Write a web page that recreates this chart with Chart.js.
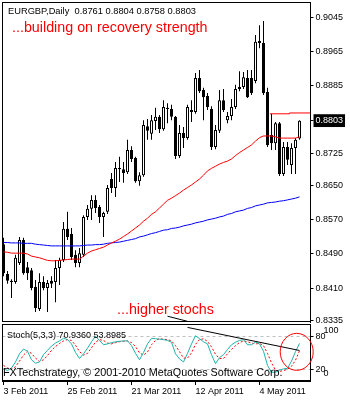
<!DOCTYPE html>
<html>
<head>
<meta charset="utf-8">
<script src="https://cdn.jsdelivr.net/npm/chart.js@4.4.0/dist/chart.umd.min.js"></script>
<style>
body { margin: 0; background: #fff; }
#wrap { position: relative; width: 350px; height: 400px; overflow: hidden; background: #fff; }
canvas { position: absolute; left: 0; }
#main { top: 0; }
#stoch { top: 322px; }
.note { position: absolute; font-family: 'Liberation Sans', Arial, sans-serif; white-space: nowrap; line-height: 1; }
</style>
</head>
<body>
<div id="wrap">
  <canvas id="main" width="350" height="330"></canvas>
  <canvas id="stoch" width="350" height="78"></canvas>
  <div class="note" style="left:8px;top:7px;font-size:9.3px;color:#000">EURGBP,Daily&nbsp; 0.8761 0.8804 0.8758 0.8803</div>
  <div class="note" style="left:12px;top:20px;font-size:14.3px;color:#ff0000">...building on recovery strength</div>
  <div class="note" style="left:117px;top:302px;font-size:14.3px;color:#ff0000">...higher stochs</div>
  <div class="note" style="left:7px;top:331px;font-size:9px;color:#000">Stoch(5,3,3) 70.9360 53.8985</div>
  <div class="note" style="left:3px;top:367px;font-size:10.8px;color:#000">FXTechstrategy, © 2001-2010 MetaQuotes Software Corp.</div>
</div>
<script>
// EURGBP daily, 3 Feb 2011 .. 18 May 2011
var dates = ['3 Feb 2011', '25 Feb 2011', '21 Mar 2011', '12 Apr 2011', '4 May 2011'];
var dateIdx = [0, 16, 32, 48, 64];

var opens = [
  0.8513,0.8443,0.8427,0.8424,0.8469,0.8523,0.8459,0.8452,0.8413,0.8361,
  0.8424,0.8410,0.8427,0.8424,0.8457,0.8476,0.8549,0.8537,0.8488,0.8469,
  0.8488,0.8577,0.8596,0.8617,0.8600,0.8577,0.8589,0.8666,0.8645,0.8689,
  0.8689,0.8682,0.8734,0.8715,0.8661,0.8675,0.8790,0.8772,0.8802,0.8812,
  0.8783,0.8830,0.8830,0.8812,0.8720,0.8774,0.8762,0.8823,0.8823,0.8903,
  0.8875,0.8861,0.8830,0.8741,0.8779,0.8851,0.8804,0.8814,0.8835,0.8877,
  0.8882,0.8903,0.8903,0.8896,0.8990,0.8985,0.8870,0.8769,0.8750,0.8797,
  0.8678,0.8741,0.8699,0.8739,0.8761];
var highs = [
  0.8528,0.8450,0.8431,0.8488,0.8530,0.8528,0.8471,0.8457,0.8429,0.8445,
  0.8438,0.8429,0.8438,0.8476,0.8481,0.8565,0.8589,0.8551,0.8499,0.8504,
  0.8581,0.8605,0.8628,0.8628,0.8605,0.8589,0.8652,0.8680,0.8706,0.8718,
  0.8706,0.8758,0.8743,0.8718,0.8682,0.8804,0.8807,0.8816,0.8833,0.8816,
  0.8851,0.8844,0.8840,0.8814,0.8793,0.8788,0.8840,0.8851,0.8915,0.8922,
  0.8880,0.8868,0.8837,0.8793,0.8875,0.8877,0.8823,0.8854,0.8887,0.8919,
  0.8917,0.8922,0.8922,0.9004,0.9027,0.9037,0.8880,0.8819,0.8800,0.8800,
  0.8753,0.8753,0.8750,0.8762,0.8804];
var lows = [
  0.8438,0.8420,0.8387,0.8420,0.8464,0.8441,0.8429,0.8405,0.8354,0.8356,
  0.8405,0.8354,0.8410,0.8377,0.8417,0.8471,0.8523,0.8476,0.8459,0.8459,
  0.8483,0.8570,0.8570,0.8586,0.8563,0.8530,0.8584,0.8633,0.8624,0.8659,
  0.8657,0.8678,0.8706,0.8657,0.8650,0.8671,0.8758,0.8758,0.8781,0.8774,
  0.8779,0.8797,0.8804,0.8713,0.8715,0.8739,0.8758,0.8800,0.8819,0.8868,
  0.8804,0.8828,0.8734,0.8736,0.8774,0.8823,0.8797,0.8804,0.8830,0.8872,
  0.8877,0.8856,0.8863,0.8891,0.8973,0.8863,0.8741,0.8734,0.8734,0.8673,
  0.8673,0.8699,0.8678,0.8678,0.8758];
var closes = [
  0.8445,0.8427,0.8424,0.8481,0.8523,0.8445,0.8445,0.8410,0.8363,0.8424,
  0.8410,0.8422,0.8420,0.8457,0.8476,0.8549,0.8530,0.8483,0.8469,0.8492,
  0.8577,0.8596,0.8617,0.8598,0.8577,0.8586,0.8645,0.8645,0.8692,0.8692,
  0.8680,0.8734,0.8713,0.8661,0.8675,0.8793,0.8779,0.8804,0.8812,0.8783,
  0.8835,0.8833,0.8812,0.8720,0.8774,0.8762,0.8835,0.8828,0.8903,0.8872,
  0.8858,0.8835,0.8741,0.8781,0.8851,0.8828,0.8814,0.8835,0.8877,0.8882,
  0.8905,0.8858,0.8868,0.8988,0.8985,0.8868,0.8746,0.8750,0.8797,0.8678,
  0.8741,0.8711,0.8739,0.8758,0.8803];

// red (faster) and blue (slower) moving averages
var maFast = [
  0.8495,0.8494,0.8492,0.8492,0.8492,0.8492,0.8490,0.8485,0.8483,0.8481,
  0.8478,0.8475,0.8474,0.8474,0.8475,0.8476,0.8477,0.8478,0.8478,0.8478,
  0.8485,0.8492,0.8497,0.8500,0.8503,0.8506,0.8511,0.8516,0.8520,0.8525,
  0.8531,0.8537,0.8544,0.8551,0.8558,0.8567,0.8574,0.8583,0.8589,0.8598,
  0.8607,0.8616,0.8621,0.8627,0.8633,0.8640,0.8646,0.8652,0.8659,0.8666,
  0.8675,0.8685,0.8691,0.8696,0.8701,0.8705,0.8708,0.8713,0.8721,0.8728,
  0.8734,0.8740,0.8746,0.8755,0.8763,0.8767,0.8767,0.8767,0.8765,0.8762,
  0.8762,0.8762,0.8762,0.8762,0.8765];
var maSlow = [
  0.8517,0.8517,0.8516,0.8516,0.8516,0.8515,0.8515,0.8515,0.8513,0.8512,
  0.8511,0.8510,0.8509,0.8509,0.8509,0.8509,0.8509,0.8509,0.8509,0.8509,
  0.8510,0.8511,0.8511,0.8512,0.8512,0.8513,0.8515,0.8516,0.8517,0.8518,
  0.8520,0.8522,0.8524,0.8526,0.8530,0.8532,0.8535,0.8538,0.8540,0.8543,
  0.8546,0.8547,0.8550,0.8551,0.8553,0.8556,0.8558,0.8560,0.8563,0.8565,
  0.8567,0.8570,0.8572,0.8574,0.8577,0.8579,0.8583,0.8585,0.8589,0.8591,
  0.8593,0.8597,0.8599,0.8603,0.8605,0.8607,0.8610,0.8611,0.8612,0.8614,
  0.8615,0.8617,0.8619,0.8621,0.8624];

var resistIdx = [66.6, 71.5, 71.5, 77];
var resistVals = [0.8819, 0.8819, 0.8821, 0.8821];

var priceTicks = [0.9045, 0.8965, 0.8885, 0.8803, 0.8725, 0.8650, 0.8570, 0.8490, 0.8410, 0.8335];
var lastClose = 0.8803;

var stochK = [
  12,8,14,28,47,58,53,33,25,28,
  45,55,65,72,77,83,80,70,50,36,
  47,60,75,88,78,68,70,73,75,76,
  77,77,66,48,33,50,70,83,82,81,
  80,78,74,47,35,28,48,70,89,82,
  75,70,45,24,38,45,57,68,74,78,
  80,68,68,74,70,53,20,4,4,9,
  12,13,30,52,71];
var stochD = [
  20,14,11,17,30,44,53,48,37,29,
  33,43,55,64,71,77,80,78,67,52,
  44,48,61,74,80,78,72,70,73,75,
  76,77,73,64,49,44,51,68,78,82,
  81,80,77,66,52,37,37,49,69,80,
  82,76,63,46,36,36,47,57,66,73,
  77,75,72,70,71,66,48,26,9,6,
  8,11,18,32,54];
var stochLevels = [20, 80];
var stochEnds = [0, 100];

// hand drawn trend line, price part and stoch part
var trendMainIdx = [41, 46];
var trendMainVals = [0.8344, 0.8332];
var trendStochIdx = [46, 74];
var trendStochVals = [108.4, 54.7];

Chart.defaults.font.family = "'Liberation Sans', Arial, sans-serif";
Chart.defaults.font.size = 9;
Chart.defaults.color = '#000';
Chart.defaults.animation = false;

var AXIS_W = 39.5;

function pts(idx, vals) { return vals.map(function (v, i) { return { x: idx ? idx[i] : i, y: v }; }); }

var frame = {
  id: 'frame',
  afterDatasetsDraw: function (chart) {
    var a = chart.chartArea, c = chart.ctx;
    c.save();
    c.strokeStyle = '#000';
    c.lineWidth = 1;
    c.strokeRect(Math.floor(a.left) + 0.5, Math.floor(a.top) + 0.5, Math.round(a.right - a.left), Math.round(a.bottom - a.top) - 1);
    c.restore();
  }
};

var ring = {
  id: 'ring',
  afterDraw: function (chart) {
    var c = chart.ctx;
    var x = chart.scales.x.getPixelForValue(73.3);
    var y = chart.scales.y.getPixelForValue(53);
    c.save();
    c.strokeStyle = '#ff0000';
    c.lineWidth = 1;
    c.beginPath();
    c.ellipse(x, y, 16.5, 18.5, 0, 0, Math.PI * 2);
    c.stroke();
    c.restore();
  }
};

// the 0/100 axis takes no room in the layout, then shares the space of the 20/80 axis
var shareAxis = {
  id: 'shareAxis',
  afterLayout: function (chart) {
    var s = chart.scales.yEnds;
    s.width = AXIS_W;
    s.right = s.left + AXIS_W;
  }
};

var wicks = lows.map(function (l, i) { return { x: i, y: [l, highs[i]] }; });
var bodies = opens.map(function (o, i) { return { x: i, y: [o, closes[i]] }; });
var bodyFill = opens.map(function (o, i) { return closes[i] >= o ? '#fff' : '#000'; });

new Chart(document.getElementById('main'), {
  type: 'bar',
  data: {
    datasets: [
      { type: 'line', data: pts(trendMainIdx, trendMainVals), borderColor: '#000', borderWidth: 1, pointRadius: 0, order: 0 },
      { type: 'line', data: pts(null, maFast), borderColor: '#ff0000', borderWidth: 1, pointRadius: 0, order: 1 },
      { type: 'line', data: pts(null, maSlow), borderColor: '#0000ff', borderWidth: 1, pointRadius: 0, order: 1 },
      { type: 'line', data: pts(resistIdx, resistVals), borderColor: '#ff0000', borderWidth: 1, pointRadius: 0, order: 1 },
      { data: bodies, backgroundColor: bodyFill, borderColor: '#000', borderWidth: 1, borderSkipped: false,
        barThickness: 3, grouped: false, inflateAmount: 0, minBarLength: 1, order: 2 },
      { data: wicks, backgroundColor: '#000', borderWidth: 0, barThickness: 1, grouped: false, inflateAmount: 0, order: 3 }
    ]
  },
  options: {
    responsive: false,
    layout: { padding: { left: 2.5, top: 2, right: 0, bottom: 8 } },
    plugins: { legend: { display: false }, tooltip: { enabled: false } },
    scales: {
      x: { type: 'linear', min: -0.25, max: 76.75, offset: false, display: false, grid: { offset: false } },
      y: {
        position: 'right', min: 0.83304, max: 0.90814, beginAtZero: false,
        afterBuildTicks: function (s) { s.ticks = priceTicks.map(function (v) { return { value: v }; }); },
        afterFit: function (s) { s.width = AXIS_W; s.paddingTop = 0; s.paddingBottom = 0; },
        grid: { drawOnChartArea: false, tickLength: 3, tickColor: '#000', color: '#000' },
        border: { color: '#000' },
        ticks: {
          padding: 2,
          callback: function (v) { return v.toFixed(4); },
          color: function (c) { return c.tick && c.tick.value === lastClose ? '#fff' : '#000'; },
          showLabelBackdrop: function (c) { return !!(c.tick && c.tick.value === lastClose); },
          backdropColor: '#000',
          backdropPadding: { top: 1, bottom: 1, left: 2, right: 2 }
        }
      }
    }
  },
  plugins: [frame]
});

new Chart(document.getElementById('stoch'), {
  type: 'line',
  data: {
    datasets: [
      { data: pts(trendStochIdx, trendStochVals), borderColor: '#000', borderWidth: 1, pointRadius: 0, clip: false, order: 0 },
      { data: pts(null, stochK), borderColor: '#20b2aa', borderWidth: 1, pointRadius: 0, order: 1 },
      { data: pts(null, stochD), borderColor: '#ff0000', borderWidth: 1, borderDash: [2, 2], pointRadius: 0, order: 2 }
    ]
  },
  options: {
    responsive: false,
    layout: { padding: { left: 2.5, top: 2, right: 0, bottom: 0 } },
    plugins: { legend: { display: false }, tooltip: { enabled: false } },
    scales: {
      x: {
        type: 'linear', min: -0.25, max: 76.75, offset: false,
        afterBuildTicks: function (s) { s.ticks = dateIdx.map(function (v) { return { value: v }; }); },
        afterFit: function (s) { s.height = 19; s.paddingLeft = 0; s.paddingRight = 0; },
        grid: { drawOnChartArea: false, tickLength: 4, tickColor: '#000' },
        border: { color: '#000' },
        ticks: { callback: function (v, i) { return dates[i]; }, align: 'start', padding: 1, autoSkip: false, maxRotation: 0 }
      },
      // 100 / 0 labels sit inside the pane, as the terminal draws them
      yEnds: {
        position: 'right', min: -16.3, max: 116.3, weight: 0,
        afterBuildTicks: function (s) { s.ticks = stochEnds.map(function (v) { return { value: v }; }); },
        afterFit: function (s) { s.width = 0; s.paddingTop = 0; s.paddingBottom = 0; },
        grid: { display: false },
        border: { display: false },
        ticks: { padding: 5 }
      },
      y: {
        position: 'right', min: 0, max: 103.6, weight: 1,
        afterBuildTicks: function (s) { s.ticks = stochLevels.map(function (v) { return { value: v }; }); },
        afterFit: function (s) { s.width = AXIS_W; s.paddingTop = 0; s.paddingBottom = 0; },
        grid: { color: '#c0c0c0', tickLength: 3, tickColor: '#000' },
        border: { color: '#000', dash: [3, 3] },
        ticks: { padding: 2 }
      }
    }
  },
  plugins: [frame, ring, shareAxis]
});
</script>
</body>
</html>
